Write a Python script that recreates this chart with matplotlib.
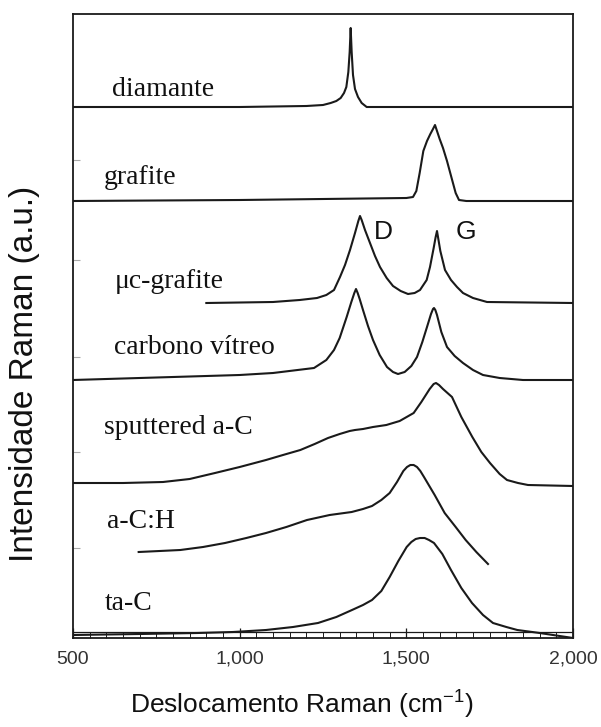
import matplotlib
matplotlib.use("Agg")
import matplotlib.pyplot as plt

plt.rcParams['mathtext.fontset'] = 'custom'
plt.rcParams['mathtext.rm'] = 'Liberation Sans'
plt.rcParams['mathtext.it'] = 'Liberation Sans'

# Raman shift (cm-1) / relative intensity
# offsets = stacking position of each spectrum baseline
names = ['diamante', 'grafite', 'μc-grafite', 'carbono vítreo',
         'sputtered a-C', 'a-C:H', 'ta-C']
offsets = [531, 437, 335, 258, 152, 86, 0]

diamante_x = [500, 1000, 1200, 1250, 1273, 1290, 1303, 1313, 1320, 1326, 1330,
              1333, 1336, 1340, 1346, 1355, 1366, 1381, 2000]
diamante_y = [0, 0, 1, 2, 4, 6, 9, 14, 20, 35, 55, 79, 55, 32, 18, 10, 4, 0, 0]

grafite_x = [500, 1000, 1500, 1520, 1530, 1540, 1551, 1562, 1572, 1580, 1586,
             1592, 1600, 1610, 1622, 1635, 1648, 1658, 1680, 2000]
grafite_y = [0, 1, 3, 4, 10, 28, 50, 60, 67, 72, 76, 70, 62, 53, 40, 24, 8,
             1, 0, 0]

muc_x = [900, 1100, 1180, 1232, 1260, 1283, 1301, 1316, 1331, 1346, 1356,
         1361, 1366, 1376, 1391, 1406, 1421, 1441, 1460, 1483, 1505, 1525,
         1541, 1561, 1571, 1582, 1588, 1592, 1596, 1602, 1616, 1634, 1652,
         1670, 1700, 1742, 2000]
muc_y = [0, 1, 3, 5, 8, 13, 26, 38, 53, 70, 82, 87, 83, 73, 60, 47, 36, 25,
         17, 12, 9, 10, 13, 23, 36, 55, 66, 72, 64, 52, 33, 23, 16, 10, 5, 1, 0]

vitreo_x = [500, 800, 1000, 1100, 1223, 1260, 1283, 1300, 1321, 1335, 1344,
            1349, 1354, 1360, 1370, 1385, 1400, 1420, 1442, 1460, 1475, 1495,
            1515, 1532, 1548, 1562, 1574, 1580, 1583, 1587, 1592, 1605, 1622,
            1645, 1670, 1700, 1730, 1780, 1850, 2000]
vitreo_y = [0, 3, 5, 7, 12, 20, 30, 42, 63, 78, 87, 91, 87, 81, 70, 54, 40,
            25, 13, 8, 6, 8, 14, 23, 38, 53, 66, 71, 72, 70, 65, 48, 33, 24,
            17, 10, 5, 2, 0, 0]

sputt_x = [500, 650, 770, 850, 926, 1000, 1079, 1130, 1182, 1225, 1265, 1300,
           1330, 1346, 1370, 1400, 1440, 1480, 1522, 1545, 1570, 1582, 1589,
           1598, 1610, 1637, 1665, 1698, 1725, 1751, 1780, 1802, 1835, 1865,
           2000]
sputt_y = [3, 3, 4, 7, 13, 19, 26, 31, 36, 42, 48, 52, 55, 56, 57, 59, 61,
           65, 73, 84, 97, 102, 103, 101, 97, 89, 69, 49, 34, 23, 12, 6, 3,
           1, 0]

ach_x = [697, 760, 822, 890, 956, 1020, 1079, 1140, 1202, 1270, 1336, 1370,
         1397, 1425, 1450, 1472, 1491, 1502, 1512, 1522, 1532, 1542, 1553,
         1585, 1615, 1648, 1678, 1710, 1745]
ach_y = [0, 1, 2, 5, 9, 14, 19, 25, 32, 37, 40, 43, 46, 52, 59, 70, 81, 85,
         87, 87, 85, 81, 75, 57, 39, 25, 12, 0, -12]

tac_x = [500, 700, 873, 980, 1079, 1160, 1235, 1290, 1337, 1370, 1397, 1425,
         1450, 1476, 1501, 1515, 1528, 1541, 1555, 1568, 1583, 1608, 1634,
         1665, 1697, 1730, 1760, 1800, 1833, 1900, 2000]
tac_y = [3, 4, 5, 6, 8, 11, 15, 21, 28, 33, 38, 47, 61, 77, 91, 96, 99, 100,
         100, 98, 95, 84, 68, 50, 35, 23, 15, 11, 8, 5, 0]

spectra_x = [diamante_x, grafite_x, muc_x, vitreo_x, sputt_x, ach_x, tac_x]
spectra_y = [diamante_y, grafite_y, muc_y, vitreo_y, sputt_y, ach_y, tac_y]

# label anchor (x in cm-1, height above the spectrum baseline)
label_x = [618, 592, 624, 624, 594, 603, 594]
label_h = [18, 23, 21, 32, 59, 31, 35]

left_ticks = [478, 378, 281, 186, 90]
xticks = [500, 1000, 1500, 2000]
xtick_labels = ['500', '1,000', '1,500', '2,000']

fig = plt.figure(figsize=(6.01, 7.27), dpi=100)
ax = fig.add_axes([73 / 601, 1 - 638 / 727, 500 / 601, 624 / 727])

for x, y, off in zip(spectra_x, spectra_y, offsets):
    ax.plot(x, [v + off for v in y], color='#1a1a1a', lw=1.5,
            solid_joinstyle='round')

for name, lx, lh, off in zip(names, label_x, label_h, offsets):
    ax.text(lx, off + lh, name, fontsize=20, family='Liberation Serif',
            va='center', ha='left', color='#111111')

ax.text(1430, 406, 'D', fontsize=19, family='Liberation Sans',
        ha='center', va='center', color='#111111')
ax.text(1679, 406, 'G', fontsize=19, family='Liberation Sans',
        ha='center', va='center', color='#111111')

ax.set_xlim(500, 2000)
ax.set_ylim(0, 624)

# ruler-like bottom axis
ax.axhline(6, color='#1a1a1a', lw=0.9)
ax.set_xticks(xticks)
ax.set_xticklabels(xtick_labels, fontsize=14, family='Liberation Sans',
                   color='#333333')
ax.set_xticks(range(550, 2000, 50), minor=True)
ax.tick_params(axis='x', which='major', direction='in', length=7,
               width=0.9, pad=9, color='#1a1a1a')
ax.tick_params(axis='x', which='minor', direction='in', length=4.5,
               width=0.7, color='#1a1a1a')

ax.set_yticks(left_ticks)
ax.set_yticklabels([])
ax.tick_params(axis='y', direction='in', length=5, width=0.8,
               color='#aaaaaa')

for s in ax.spines.values():
    s.set_linewidth(1.3)
    s.set_color('#1a1a1a')

fig.text(25 / 601, 1 - 374 / 727, 'Intensidade Raman (a.u.)', rotation=90,
         fontsize=24, family='Liberation Sans', ha='center', va='center',
         color='#111111')
fig.text(302 / 601, 1 - 705 / 727, 'Deslocamento Raman (cm$^{-1}$)',
         fontsize=19, family='Liberation Sans', ha='center', va='center',
         color='#111111')

fig.savefig('out.png', dpi=100)
